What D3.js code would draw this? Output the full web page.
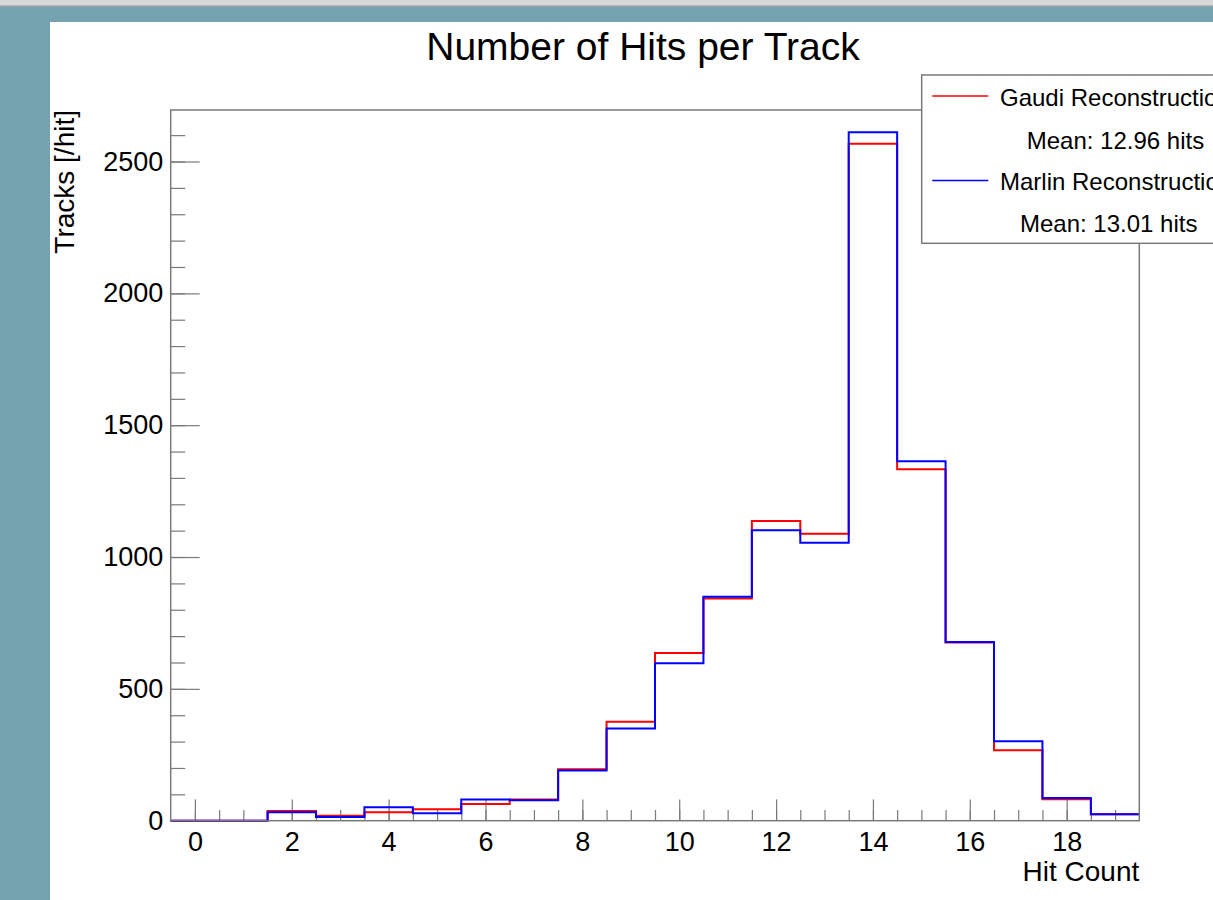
<!DOCTYPE html>
<html>
<head>
<meta charset="utf-8">
<script src="https://cdn.jsdelivr.net/npm/d3@7"></script>
<style>
  html, body { margin: 0; padding: 0; background: #74a3af; }
  svg { display: block; font-family: "Liberation Sans", Arial, Helvetica, sans-serif; }
</style>
</head>
<body>
<svg id="chart" width="1213" height="900"></svg>
<script>
// Hit-count bins (bin centres) and track counts per bin
const hitCounts = [0, 1, 2, 3, 4, 5, 6, 7, 8, 9, 10, 11, 12, 13, 14, 15, 16, 17, 18, 19];
const gaudiTracks  = [0, 0, 37, 19, 32, 43, 63, 80, 195, 375, 636, 843, 1137, 1088, 2567, 1333, 676, 267, 81, 24];
const marlinTracks = [0, 0, 32, 14, 51, 28, 80, 78, 190, 350, 597, 849, 1102, 1054, 2611, 1363, 678, 301, 86, 24];

const xMajorTicks = [0, 2, 4, 6, 8, 10, 12, 14, 16, 18];
const yMajorTicks = [0, 500, 1000, 1500, 2000, 2500];

const titleText = "Number of Hits per Track";
const xTitle = "Hit Count";
const yTitle = "Tracks [/hit]";
const legendEntries = [
  { label: "Gaudi Reconstruction", mean: "Mean: 12.96 hits", color: "#ff0000" },
  { label: "Marlin Reconstruction", mean: "Mean: 13.01 hits", color: "#0000ff" }
];

const svg = d3.select("#chart");
const W = 1213, H = 900;

// window chrome and canvas background
svg.append("rect").attr("x", 0).attr("y", 0).attr("width", W).attr("height", H).attr("fill", "#74a3af");
svg.append("rect").attr("x", 0).attr("y", 0).attr("width", W).attr("height", 6).attr("fill", "#d9d9d9");
svg.append("line").attr("x1", 0).attr("x2", W).attr("y1", 6).attr("y2", 6).attr("stroke", "#a8a8a8").attr("stroke-width", 1.5);
svg.append("rect").attr("x", 50).attr("y", 22).attr("width", W - 50 + 10).attr("height", H - 22 + 10).attr("fill", "#ffffff");

// frame geometry
const fx0 = 170.7, fx1 = 1139.3, fy0 = 110, fy1 = 820.7;
const binWidth = 1;
const x = d3.scaleLinear()
  .domain([hitCounts[0] - binWidth / 2, hitCounts[hitCounts.length - 1] + binWidth / 2])
  .range([fx0, fx1]);
const y = d3.scaleLinear()
  .domain([0, d3.max(gaudiTracks) * 1.05])
  .range([fy1, fy0]);

const axisColor = "#7a7a7a";

// minor ticks
const xMinor = d3.range(x.domain()[0] + 0.5, x.domain()[1], 0.5);
const yMinor = d3.range(0, y.domain()[1], 100);

svg.append("g")
  .attr("transform", `translate(0,${fy1})`)
  .call(d3.axisBottom(x).tickValues(xMinor).tickSizeInner(-10.7).tickSizeOuter(0).tickFormat(""))
  .call(g => g.select(".domain").remove())
  .call(g => g.selectAll("line").attr("stroke", axisColor).attr("stroke-width", 1.2));

svg.append("g")
  .attr("transform", `translate(${fx0},0)`)
  .call(d3.axisLeft(y).tickValues(yMinor).tickSizeInner(-14.5).tickSizeOuter(0).tickFormat(""))
  .call(g => g.select(".domain").remove())
  .call(g => g.selectAll("line").attr("stroke", axisColor).attr("stroke-width", 1.2));

// major ticks with labels
const xAxis = svg.append("g")
  .attr("transform", `translate(0,${fy1})`)
  .call(d3.axisBottom(x).tickValues(xMajorTicks).tickSizeInner(-21.3).tickSizeOuter(0).tickPadding(11).tickFormat(d3.format("d")));
xAxis.select(".domain").remove();
xAxis.selectAll("line").attr("stroke", axisColor).attr("stroke-width", 1.2);
xAxis.selectAll("text").attr("fill", "#000").attr("font-size", 27).attr("font-family", "Liberation Sans, Arial, sans-serif");

const yAxis = svg.append("g")
  .attr("transform", `translate(${fx0},0)`)
  .call(d3.axisLeft(y).tickValues(yMajorTicks).tickSizeInner(-29).tickSizeOuter(0).tickPadding(7.4).tickFormat(d3.format("d")));
yAxis.select(".domain").remove();
yAxis.selectAll("line").attr("stroke", axisColor).attr("stroke-width", 1.2);
yAxis.selectAll("text").attr("fill", "#000").attr("font-size", 27).attr("font-family", "Liberation Sans, Arial, sans-serif");

// histogram outlines (step lines)
function stepPoints(values) {
  const pts = values.map((v, i) => [hitCounts[i] - binWidth / 2, v]);
  pts.push([hitCounts[hitCounts.length - 1] + binWidth / 2, values[values.length - 1]]);
  return pts;
}
const stepLine = d3.line().x(d => x(d[0])).y(d => y(d[1])).curve(d3.curveStepAfter);

svg.append("path")
  .datum(stepPoints(gaudiTracks))
  .attr("d", stepLine)
  .attr("fill", "none").attr("stroke", legendEntries[0].color).attr("stroke-width", 2);
svg.append("path")
  .datum(stepPoints(marlinTracks))
  .attr("d", stepLine)
  .attr("fill", "none").attr("stroke", legendEntries[1].color).attr("stroke-width", 2);

// frame
svg.append("rect")
  .attr("x", fx0).attr("y", fy0).attr("width", fx1 - fx0).attr("height", fy1 - fy0)
  .attr("fill", "none").attr("stroke", axisColor).attr("stroke-width", 1.5);

// titles
svg.append("text").attr("x", 643).attr("y", 60).attr("text-anchor", "middle")
  .attr("font-size", 39).attr("fill", "#000").text(titleText);
svg.append("text").attr("x", fx1).attr("y", 880.7).attr("text-anchor", "end")
  .attr("font-size", 28).attr("fill", "#000").text(xTitle);
svg.append("text").attr("transform", `translate(73.5,${fy0}) rotate(-90)`).attr("text-anchor", "end")
  .attr("font-size", 28).attr("fill", "#000").text(yTitle);

// legend
const lg = svg.append("g");
lg.append("rect").attr("x", 921.7).attr("y", 75).attr("width", 320).attr("height", 168.3)
  .attr("fill", "#fff").attr("stroke", axisColor).attr("stroke-width", 1.5);
const rowBase = [105.5, 149.3, 190, 231.7];
const meanX = [1026.7, 1020];
legendEntries.forEach((e, i) => {
  const b1 = rowBase[i * 2], b2 = rowBase[i * 2 + 1];
  lg.append("line").attr("x1", 932.3).attr("x2", 988.3).attr("y1", b1 - 9.5).attr("y2", b1 - 9.5)
    .attr("stroke", e.color).attr("stroke-width", 1.5);
  lg.append("text").attr("x", 1000).attr("y", b1).attr("font-size", 24).attr("fill", "#000").text(e.label);
  lg.append("text").attr("x", meanX[i]).attr("y", b2).attr("font-size", 24).attr("fill", "#000").text(e.mean);
});
</script>
</body>
</html>
